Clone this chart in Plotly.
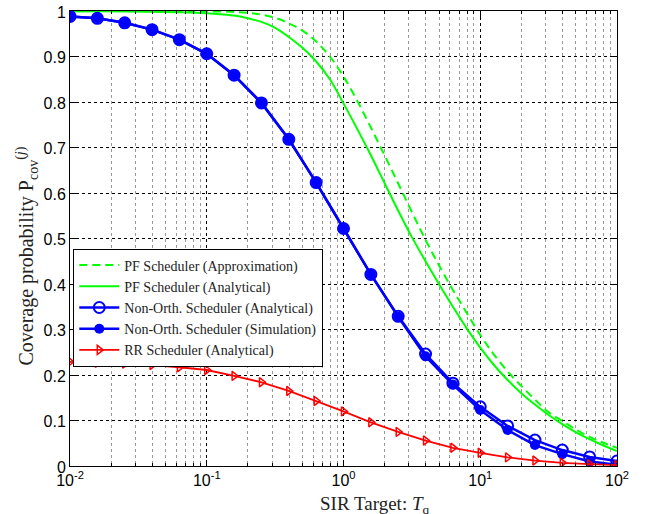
import plotly.graph_objects as go

# ---- data ----
marker_exponents = [-2.0, -1.8, -1.6, -1.4, -1.2, -1.0, -0.8, -0.6, -0.4, -0.2, 0.0,
                    0.2, 0.4, 0.6, 0.8, 1.0, 1.2, 1.4, 1.6, 1.8, 2.0]
nonorth_analytical = [0.988, 0.984, 0.974, 0.959, 0.937, 0.906, 0.859, 0.798, 0.718, 0.623, 0.522,
                      0.421, 0.329, 0.246, 0.182, 0.130, 0.088, 0.057, 0.035, 0.020, 0.011]
nonorth_simulation = [0.988, 0.984, 0.974, 0.959, 0.937, 0.906, 0.859, 0.798, 0.718, 0.623, 0.522,
                      0.421, 0.328, 0.241, 0.179, 0.123, 0.079, 0.046, 0.026, 0.010, 0.003]
rr_analytical = [0.229, 0.227, 0.225, 0.222, 0.217, 0.211, 0.198, 0.184, 0.165, 0.143, 0.120,
                 0.096, 0.075, 0.056, 0.040, 0.029, 0.019, 0.012, 0.007, 0.004, 0.002]

pf_exponents = [-2.0, -1.6, -1.2, -1.0, -0.9, -0.8, -0.7, -0.6, -0.5, -0.4, -0.3, -0.2, -0.1, 0.0,
                0.1, 0.2, 0.3, 0.4, 0.5, 0.6, 0.7, 0.8, 0.9, 1.0, 1.1, 1.2, 1.3, 1.4, 1.5,
                1.6, 1.7, 1.8, 1.9, 2.0]
pf_analytical = [0.999, 0.999, 0.997, 0.995, 0.993, 0.990, 0.984, 0.976, 0.963, 0.943, 0.919, 0.889,
                 0.850, 0.797, 0.741, 0.683, 0.622, 0.561, 0.503, 0.450, 0.399, 0.350, 0.303,
                 0.260, 0.222, 0.189, 0.160, 0.135, 0.112, 0.092, 0.074, 0.059, 0.045, 0.033]
pf_approximation = [1.000, 1.000, 0.9995, 0.999, 0.999, 0.998, 0.996, 0.992, 0.985, 0.973, 0.957,
                    0.933, 0.900, 0.856, 0.803, 0.744, 0.683, 0.621, 0.558, 0.497, 0.440, 0.387,
                    0.337, 0.288, 0.245, 0.208, 0.176, 0.146, 0.118, 0.099, 0.080, 0.064, 0.051, 0.040]

x_tick_exponents = [-2, -1, 0, 1, 2]
minor_multipliers = [2, 3, 4, 5, 6, 7, 8, 9]
y_tick_values = [0, 0.1, 0.2, 0.3, 0.4, 0.5, 0.6, 0.7, 0.8, 0.9, 1]
y_tick_labels = ["0", "0.1", "0.2", "0.3", "0.4", "0.5", "0.6", "0.7", "0.8", "0.9", "1"]

x_markers = [10 ** e for e in marker_exponents]
x_pf = [10 ** e for e in pf_exponents]
minor_vals = [m * 10 ** e for e in x_tick_exponents[:-1] for m in minor_multipliers]

GREEN = "#00FF00"
BLUE = "#0000FF"
RED = "#FF0000"
SERIF = "Liberation Serif, Times New Roman, serif"
SANS = "Liberation Sans, Arial, Helvetica, sans-serif"

fig = go.Figure()
fig.add_trace(go.Scatter(x=x_pf, y=pf_approximation, mode="lines", line_shape="spline",
                         name="PF Scheduler (Approximation)",
                         line=dict(color=GREEN, width=2, dash="8px,5px")))
fig.add_trace(go.Scatter(x=x_pf, y=pf_analytical, mode="lines", line_shape="spline",
                         name="PF Scheduler (Analytical)",
                         line=dict(color=GREEN, width=2)))
fig.add_trace(go.Scatter(x=x_markers, y=nonorth_analytical, mode="lines+markers",
                         name="Non-Orth. Scheduler (Analytical)",
                         line=dict(color=BLUE, width=2.5),
                         marker=dict(symbol="circle-open", size=11, color=BLUE,
                                     line=dict(width=2, color=BLUE))))
fig.add_trace(go.Scatter(x=x_markers, y=nonorth_simulation, mode="lines+markers",
                         name="Non-Orth. Scheduler (Simulation)",
                         line=dict(color=BLUE, width=2.5),
                         marker=dict(symbol="circle", size=10, color=BLUE)))
fig.add_trace(go.Scatter(x=x_markers, y=rr_analytical, mode="lines+markers",
                         name="RR Scheduler (Analytical)",
                         line=dict(color=RED, width=1.8),
                         marker=dict(symbol="triangle-right-open", size=8, color=RED,
                                     line=dict(width=1.5, color=RED))))

fig.update_layout(
    template="none",
    width=651, height=514,
    margin=dict(l=70, r=34, t=10.5, b=48, autoexpand=False),
    paper_bgcolor="white", plot_bgcolor="white",
    showlegend=True,
    legend=dict(x=0.006, y=0.478, xanchor="left", yanchor="top",
                bgcolor="white", bordercolor="black", borderwidth=1,
                font=dict(family=SERIF, size=14, color="#222"),
                tracegroupgap=0, itemwidth=40),
    annotations=[
        dict(text="SIR Target: <i>T</i><sub>q</sub>", xref="paper", yref="paper",
             x=0.558, y=-0.056, xanchor="center", yanchor="top", showarrow=False,
             font=dict(family=SERIF, size=19, color="#222")),
        dict(text="Coverage probability P<sub>cov</sub><sup>(<i>j</i>)</sup>",
             xref="paper", yref="paper", x=-0.078, y=0.461, xanchor="center",
             yanchor="middle", textangle=-90, showarrow=False,
             font=dict(family=SERIF, size=20, color="#222")),
    ],
)

fig.update_xaxes(
    type="log", range=[-2, 2], automargin=False,
    tickmode="array",
    tickvals=[10 ** e for e in x_tick_exponents],
    ticktext=["10<sup>%d</sup>" % e for e in x_tick_exponents],
    tickfont=dict(family=SANS, size=16, color="black"),
    ticklabeloverflow="allow",
    ticks="inside", ticklen=6, tickcolor="black",
    showline=True, linecolor="black", linewidth=1, mirror="ticks",
    showgrid=True, gridcolor="black", griddash="dot", gridwidth=1,
    zeroline=False,
    minor=dict(tickmode="array", tickvals=minor_vals,
               ticks="inside", ticklen=3, tickcolor="black",
               showgrid=True, gridcolor="#999999", griddash="dot", gridwidth=1),
)
fig.update_yaxes(
    range=[0, 1], automargin=False,
    tickmode="array", tickvals=y_tick_values, ticktext=y_tick_labels,
    tickfont=dict(family=SANS, size=16, color="black"),
    ticklabeloverflow="allow", ticklabelshift=1,
    ticks="inside", ticklen=6, tickcolor="black",
    showline=True, linecolor="black", linewidth=1, mirror="ticks",
    showgrid=True, gridcolor="black", griddash="dot", gridwidth=1,
    zeroline=False,
)

# remove the default page margin so the figure fills the window exactly
fig.write_html("out.html",
               config={"displayModeBar": False},
               post_script="document.body.style.margin='0';document.body.style.overflow='hidden';")
